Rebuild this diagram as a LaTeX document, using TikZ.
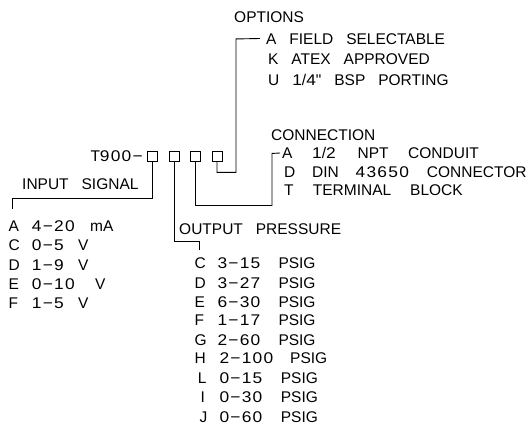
\documentclass[tikz,border=0pt]{standalone}
\usepackage{fontspec}
\setmainfont{Liberation Sans}[WordSpace=3.0]
\newfontfamily\widedigits{Liberation Sans}[FakeStretch=1.12,LetterSpace=8]
\newfontfamily\plainquote{Liberation Sans}[Ligatures=TeXOff]
\newcommand\mn{\char"2212\relax}
\newcommand\nm[1]{{\widedigits #1}}
\newcommand\col[2]{\makebox[#1pt][l]{#2}}
\begin{document}
\begin{tikzpicture}[x=1pt,y=-1pt,
  lab/.style={anchor=base west,inner sep=0pt,font=\fontsize{15.5}{18}\selectfont},
  sel/.style={draw,line width=0.9pt,minimum width=10pt,minimum height=10pt,inner sep=0pt},
  lead/.style={line width=0.9pt}]
\useasboundingbox (0,0) rectangle (531,428);
% model code
\node[lab,anchor=base east] (code) at (143,161.5) {T\nm{900\mn}};
\node[sel] (b1) at (152.5,156) {};
\node[sel] (b2) at (174,156) {};
\node[sel] (b3) at (195.5,156) {};
\node[sel] (b4) at (217,156) {};
% options
\node[lab] (optT) at (234,22.5) {OPTIONS};
\node[lab] (optA) at (266,44.8) {A FIELD SELECTABLE};
\node[lab] (optK) at (268,64.8) {K ATEX APPROVED};
\node[lab] (optU) at (268,85.5) {U \nm{1}/\nm{4}{\plainquote "} BSP PORTING};
\coordinate (optEnd) at (260,38.5);
\draw[lead] (b4.south) -- ++(0,11) -| ++(19,-133.5) -- (optEnd);
% connection
\node[lab] (conT) at (271,140) {CONNECTION};
\node[lab] (conA) at (282,158.5) {\col{30}{A}\col{45.5}{\nm{1}/\nm{2}}\col{50.5}{NPT}CONDUIT};
\node[lab] (conD) at (284,177) {\col{28}{D}\col{43.5}{DIN}\col{71.2}{\nm{43650}}CONNECTOR};
\node[lab] (conT2) at (284,195.5) {\col{28.7}{T}\col{97.3}{TERMINAL}BLOCK};
\coordinate (conEnd) at (280,153);
\draw[lead] (b3.south) -- ++(0,44) -| ++(76.5,-52) -- (conEnd);
% input signal
\node[lab] (inT) at (22,189.5) {INPUT SIGNAL};
\coordinate (inEnd) at (12.5,209);
\draw[lead] (b1.south) |- ++(-140,36.5) -- (inEnd);
\node[lab] (inA) at (8.5,231.5) {\col{23.2}{A}\col{58.3}{\nm{4\mn20}}mA};
\node[lab] (inC) at (8.5,250.5) {\col{23.2}{C}\col{46.3}{\nm{0\mn5}}V};
\node[lab] (inD) at (8.5,270) {\col{23.2}{D}\col{46.3}{\nm{1\mn9}}V};
\node[lab] (inE) at (8.5,289.5) {\col{23.2}{E}\col{63.3}{\nm{0\mn10}}V};
\node[lab] (inF) at (8.5,308.5) {\col{23.2}{F}\col{46.3}{\nm{1\mn5}}V};
% output pressure
\node[lab] (outT) at (179,234.5) {OUTPUT PRESSURE};
\coordinate (outEnd) at (199.5,250);
\draw[lead] (b2.south) -- ++(0,80) -| (outEnd);
\node[lab] (oC) at (194.3,268.8) {\col{23}{C}\col{61}{\nm{3\mn15}}PSIG};
\node[lab] (oD) at (194.3,288.2) {\col{23}{D}\col{61}{\nm{3\mn27}}PSIG};
\node[lab] (oE) at (194.3,307.8) {\col{23}{E}\col{61}{\nm{6\mn30}}PSIG};
\node[lab] (oF) at (194.3,325.5) {\col{23}{F}\col{61}{\nm{1\mn17}}PSIG};
\node[lab] (oG) at (194.3,345.5) {\col{23}{G}\col{61}{\nm{2\mn60}}PSIG};
\node[lab] (oH) at (194.3,363.2) {\col{25}{H}\col{70.7}{\nm{2\mn100}}PSIG};
\node[lab] (oL) at (197.7,383.2) {\col{21.6}{L}\col{61.4}{\nm{0\mn15}}PSIG};
\node[lab] (oI) at (200.5,402.2) {\col{18.8}{I}\col{61.4}{\nm{0\mn30}}PSIG};
\node[lab] (oJ) at (199.3,422.2) {\col{20}{J}\col{61.4}{\nm{0\mn60}}PSIG};
\end{tikzpicture}
\end{document}
